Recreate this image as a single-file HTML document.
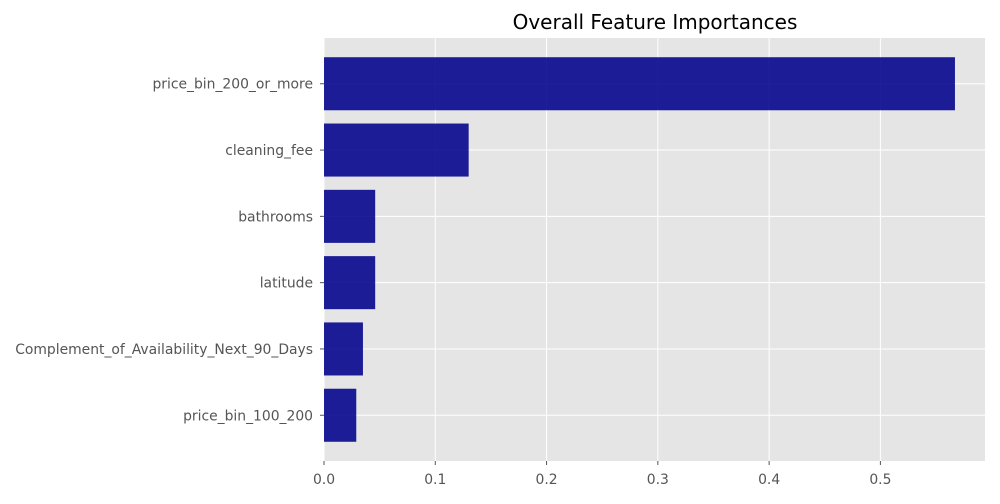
<!DOCTYPE html>
<html><head><meta charset="utf-8"><style>
body{margin:0;background:#fff;font-family:"DejaVu Sans","Liberation Sans",sans-serif;}
</style></head><body>
<svg width="1000" height="500" xmlns="http://www.w3.org/2000/svg" font-family="DejaVu Sans, Liberation Sans, sans-serif">
<rect x="0" y="0" width="1000" height="500" fill="#fff"/>
<rect x="324" y="38" width="661" height="423" fill="#e5e5e5"/>
<g id="grid"></g>
<g id="bars"></g>
<g id="xticks"></g>
<g id="yticks"></g>
<text x="655" y="29" text-anchor="middle" font-size="20" fill="#000">Overall Feature Importances</text>
</svg>
<script>
const categories = ["price_bin_200_or_more","cleaning_fee","bathrooms","latitude","Complement_of_Availability_Next_90_Days","price_bin_100_200"];
const importances = [0.567, 0.130, 0.046, 0.046, 0.035, 0.029];
const xTickValues = [0.0, 0.1, 0.2, 0.3, 0.4, 0.5];
const xTickLabels = ["0.0","0.1","0.2","0.3","0.4","0.5"];

const NS = "http://www.w3.org/2000/svg";
const L = 324, R = 985, T = 38, B = 461;
const xMax = 0.594;
const x = v => L + v / xMax * (R - L);
const n = categories.length;
const yMin = -0.69, yMax = n - 1 + 0.69;
const y = i => T + (i - yMin) / (yMax - yMin) * (B - T);
const bandPx = (B - T) / (yMax - yMin);

function mk(tag, attrs, parent) {
  const el = document.createElementNS(NS, tag);
  for (const k in attrs) el.setAttribute(k, attrs[k]);
  parent.appendChild(el);
  return el;
}
const grid = document.getElementById('grid');
const bars = document.getElementById('bars');
const xt = document.getElementById('xticks');
const yt = document.getElementById('yticks');

xTickValues.forEach((v, i) => {
  const gl = mk('line', {x1: x(v), x2: x(v), y1: T, y2: B, stroke: '#fff', 'stroke-width': 1}, grid);
  
  
  const tk = mk('line', {x1: x(v), x2: x(v), y1: B, y2: B + 4, stroke: '#555', 'stroke-width': 1}, xt);
  
  
  const t = mk('text', {x: x(v), y: B + 23, 'text-anchor': 'middle', 'font-size': 13.9, fill: '#555'}, xt);
  t.textContent = xTickLabels[i];
  
  
});
categories.forEach((c, i) => {
  const cy = y(i);
  const gl = mk('line', {x1: L, x2: R, y1: cy, y2: cy, stroke: '#fff', 'stroke-width': 1}, grid);
  
  
  const h = bandPx * 0.8;
  const b = mk('rect', {x: x(0), y: cy - h / 2, width: x(importances[i]) - x(0), height: h, fill: '#00008b', 'fill-opacity': 0.88}, bars);
  
  
  const tk = mk('line', {x1: L - 4, x2: L, y1: cy, y2: cy, stroke: '#555', 'stroke-width': 1}, yt);
  
  
  const t = mk('text', {x: L - 11, y: cy + 5, 'text-anchor': 'end', 'font-size': 13.9, fill: '#555'}, yt);
  t.textContent = c;
  
  
});
</script>
</body></html>
